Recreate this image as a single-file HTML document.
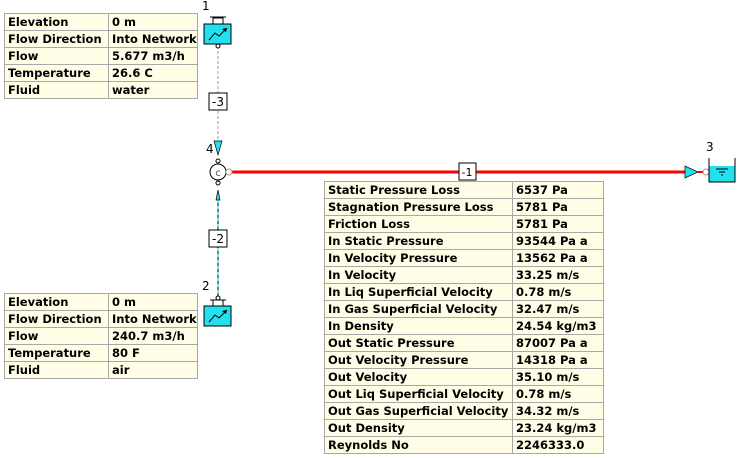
<!DOCTYPE html>
<html><head><meta charset="utf-8"><style>
body{margin:0;width:738px;height:458px;background:#fff;position:relative;overflow:hidden;font-family:"DejaVu Sans","Liberation Sans",sans-serif;}
table{position:absolute;border-collapse:collapse;background:#fffde6;font-size:11.5px;font-weight:bold;color:#000;table-layout:fixed;}
td{border:1px solid #a8a8a8;height:16px;padding:0 0 0 3px;line-height:16px;white-space:nowrap;overflow:hidden;}
svg{position:absolute;left:0;top:0;}
</style></head><body>
<svg width="738" height="458" viewBox="0 0 738 458">
<line x1="218" y1="46" x2="218" y2="141" stroke="#999" stroke-width="1" stroke-dasharray="3,2"/>
<line x1="218" y1="200" x2="218" y2="298" stroke="#000" stroke-width="1"/>
<line x1="218" y1="200" x2="218" y2="298" stroke="#00d8e0" stroke-width="1" stroke-dasharray="3,3"/>
<line x1="232" y1="172" x2="688" y2="172" stroke="#f00" stroke-width="3"/>
<rect x="213" y="18" width="10" height="6" fill="#fff" stroke="#000"/>
<line x1="210" y1="17" x2="226" y2="17" stroke="#000"/>
<rect x="204" y="24" width="27" height="20" fill="#22e0ee" stroke="#000"/>
<polyline points="209,40 215,33 219,36 227,28" fill="none" stroke="#000"/>
<polygon points="227,28 222,29 226,32" fill="#000"/>
<circle cx="218" cy="46" r="2" fill="#fff" stroke="#000"/>
<text x="202" y="10" font-size="12">1</text>
<circle cx="218" cy="298" r="2" fill="#fff" stroke="#000"/>
<rect x="213" y="300" width="10" height="6" fill="#fff" stroke="#000"/>
<line x1="210" y1="300" x2="226" y2="300" stroke="#000"/>
<rect x="204" y="306" width="27" height="20" fill="#22e0ee" stroke="#000"/>
<polyline points="209,322 215,315 219,318 227,310" fill="none" stroke="#000"/>
<polygon points="227,310 222,311 226,314" fill="#000"/>
<text x="202" y="290" font-size="12">2</text>
<polygon points="214,141 222,141 218,155" fill="#22e0ee" stroke="#000" stroke-width="0.7"/>
<polygon points="218,190 216,200 220,200" fill="#22e0ee" stroke="#000" stroke-width="0.7"/>
<circle cx="218" cy="161" r="2" fill="#fff" stroke="#000"/>
<circle cx="218" cy="172" r="8" fill="#fff" stroke="#000"/>
<text x="218" y="176" font-size="10" text-anchor="middle" fill="#555">c</text>
<circle cx="229" cy="172" r="3" fill="#fff" stroke="#999"/>
<circle cx="218" cy="183" r="2" fill="#fff" stroke="#000"/>
<text x="206" y="153" font-size="12" fill="#000">4</text>
<rect x="209" y="93" width="18" height="17" fill="#fff" stroke="#000"/>
<text x="218" y="106" font-size="12" text-anchor="middle">-3</text>
<rect x="209" y="230" width="18" height="17" fill="#fff" stroke="#000"/>
<text x="218" y="243" font-size="12" text-anchor="middle">-2</text>
<rect x="459" y="163" width="17" height="17" fill="#fff" stroke="#000"/>
<text x="467" y="176" font-size="11" text-anchor="middle">-1</text>
<polygon points="685,166 685,178 698,172" fill="#22e0ee" stroke="#000" stroke-width="0.7"/>
<line x1="698" y1="172" x2="704" y2="172" stroke="#f00" stroke-width="2"/>
<circle cx="706" cy="172" r="3" fill="#fff" stroke="#999"/>
<polyline points="709,158 709,182 735,182 735,158" fill="none" stroke="#000"/>
<rect x="709.5" y="166" width="25" height="15.5" fill="#22e0ee"/>
<line x1="716" y1="169" x2="728" y2="169" stroke="#000"/>
<line x1="719" y1="172" x2="725" y2="172" stroke="#000"/>
<line x1="721" y1="175" x2="723" y2="175" stroke="#000"/>
<text x="706" y="151" font-size="12">3</text>
</svg>
<table style="left:4px;top:13px;width:194px">
<tr><td style="width:100px">Elevation</td><td>0 m</td></tr>
<tr><td>Flow Direction</td><td>Into Network</td></tr>
<tr><td>Flow</td><td>5.677 m3/h</td></tr>
<tr><td>Temperature</td><td>26.6 C</td></tr>
<tr><td>Fluid</td><td>water</td></tr>
</table>
<table style="left:4px;top:293px;width:194px">
<tr><td style="width:100px">Elevation</td><td>0 m</td></tr>
<tr><td>Flow Direction</td><td>Into Network</td></tr>
<tr><td>Flow</td><td>240.7 m3/h</td></tr>
<tr><td>Temperature</td><td>80 F</td></tr>
<tr><td>Fluid</td><td>air</td></tr>
</table>
<table style="left:324px;top:181px;width:280px">
<tr><td style="width:184px">Static Pressure Loss</td><td>6537 Pa</td></tr>
<tr><td>Stagnation Pressure Loss</td><td>5781 Pa</td></tr>
<tr><td>Friction Loss</td><td>5781 Pa</td></tr>
<tr><td>In Static Pressure</td><td>93544 Pa a</td></tr>
<tr><td>In Velocity Pressure</td><td>13562 Pa a</td></tr>
<tr><td>In Velocity</td><td>33.25 m/s</td></tr>
<tr><td>In Liq Superficial Velocity</td><td>0.78 m/s</td></tr>
<tr><td>In Gas Superficial Velocity</td><td>32.47 m/s</td></tr>
<tr><td>In Density</td><td>24.54 kg/m3</td></tr>
<tr><td>Out Static Pressure</td><td>87007 Pa a</td></tr>
<tr><td>Out Velocity Pressure</td><td>14318 Pa a</td></tr>
<tr><td>Out Velocity</td><td>35.10 m/s</td></tr>
<tr><td>Out Liq Superficial Velocity</td><td>0.78 m/s</td></tr>
<tr><td>Out Gas Superficial Velocity</td><td>34.32 m/s</td></tr>
<tr><td>Out Density</td><td>23.24 kg/m3</td></tr>
<tr><td>Reynolds No</td><td>2246333.0</td></tr>
</table>
</body></html>
